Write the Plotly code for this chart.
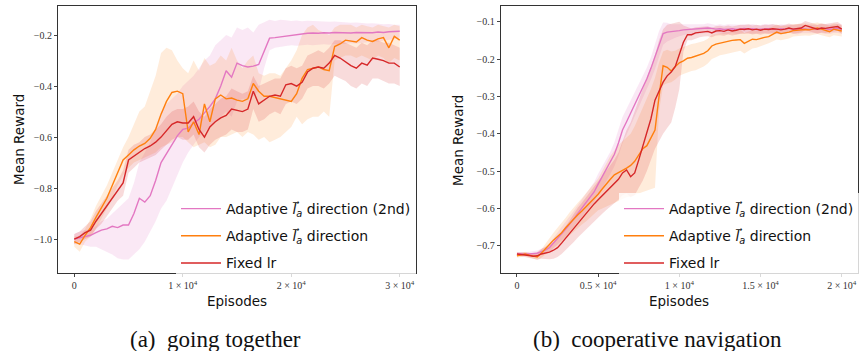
import numpy as np
import plotly.graph_objects as go

# ---------------- data: (a) going together ----------------
ep_a = np.arange(0, 30001, 500)

pink_a = [
    -1.00, -0.995, -0.99, -0.985, -0.975, -0.965, -0.96, -0.95, -0.955, -0.945,
    -0.945, -0.90, -0.84, -0.855, -0.83, -0.77, -0.70, -0.665, -0.63, -0.595,
    -0.57, -0.565, -0.545, -0.53, -0.505, -0.48, -0.45, -0.40, -0.34, -0.365,
    -0.31, -0.32, -0.325, -0.322, -0.315, -0.26, -0.212, -0.21, -0.207, -0.205,
    -0.20, -0.198, -0.195, -0.193, -0.192, -0.193, -0.191, -0.192, -0.19, -0.191,
    -0.19, -0.192, -0.19, -0.191, -0.19, -0.191, -0.188, -0.19, -0.187, -0.185,
    -0.185]
pink_a_hi = [
    -0.98, -0.97, -0.965, -0.96, -0.95, -0.93, -0.92, -0.90, -0.88, -0.86,
    -0.84, -0.78, -0.70, -0.66, -0.62, -0.56, -0.50, -0.47, -0.45, -0.43,
    -0.40, -0.38, -0.36, -0.33, -0.30, -0.28, -0.24, -0.22, -0.20, -0.21,
    -0.17, -0.18, -0.17, -0.19, -0.16, -0.15, -0.14, -0.145, -0.14, -0.142,
    -0.145, -0.143, -0.146, -0.144, -0.145, -0.147, -0.146, -0.148, -0.147, -0.149,
    -0.15, -0.152, -0.151, -0.153, -0.155, -0.154, -0.156, -0.158, -0.157, -0.16,
    -0.16]
pink_a_lo = [
    -1.02, -1.02, -1.025, -1.03, -1.03, -1.04, -1.05, -1.06, -1.075, -1.08,
    -1.08, -1.06, -1.04, -1.01, -0.97, -0.93, -0.88, -0.85, -0.80, -0.75,
    -0.70, -0.66, -0.63, -0.60, -0.58, -0.56, -0.54, -0.52, -0.50, -0.52,
    -0.46, -0.45, -0.45, -0.44, -0.42, -0.33, -0.26, -0.25, -0.245, -0.243,
    -0.24, -0.242, -0.24, -0.238, -0.24, -0.237, -0.236, -0.238, -0.235, -0.236,
    -0.234, -0.232, -0.233, -0.23, -0.228, -0.226, -0.225, -0.222, -0.22, -0.215,
    -0.21]

orange_a = [
    -1.01, -1.02, -0.985, -0.955, -0.915, -0.875, -0.84, -0.79, -0.74, -0.69,
    -0.67, -0.65, -0.635, -0.625, -0.605, -0.57, -0.51, -0.46, -0.425, -0.42,
    -0.43, -0.58, -0.54, -0.59, -0.47, -0.54, -0.45, -0.435, -0.45, -0.447,
    -0.455, -0.46, -0.45, -0.39, -0.42, -0.44, -0.44, -0.445, -0.45, -0.455,
    -0.46, -0.43, -0.37, -0.335, -0.33, -0.325, -0.335, -0.34, -0.245, -0.235,
    -0.22, -0.225, -0.227, -0.21, -0.22, -0.225, -0.215, -0.21, -0.25, -0.205,
    -0.22]
orange_a_hi = [
    -0.99, -0.99, -0.96, -0.92, -0.87, -0.83, -0.79, -0.74, -0.69, -0.64,
    -0.60, -0.55, -0.50, -0.48, -0.42, -0.36, -0.27, -0.25, -0.26, -0.30,
    -0.33, -0.35, -0.30, -0.34, -0.29, -0.32, -0.31, -0.28, -0.30, -0.25,
    -0.30, -0.33, -0.30, -0.28, -0.35, -0.36, -0.35, -0.35, -0.36, -0.33,
    -0.30, -0.26, -0.20, -0.17, -0.16, -0.18, -0.19, -0.20, -0.17, -0.16,
    -0.16, -0.16, -0.17, -0.16, -0.165, -0.17, -0.16, -0.165, -0.17, -0.16,
    -0.165]
orange_a_lo = [
    -1.03, -1.05, -1.01, -0.99, -0.96, -0.92, -0.88, -0.84, -0.79, -0.75,
    -0.72, -0.70, -0.69, -0.68, -0.67, -0.66, -0.64, -0.63, -0.62, -0.60,
    -0.60, -0.62, -0.64, -0.63, -0.62, -0.64, -0.63, -0.60, -0.60, -0.59,
    -0.58, -0.60, -0.58, -0.59, -0.61, -0.60, -0.62, -0.61, -0.60, -0.58,
    -0.56, -0.52, -0.55, -0.53, -0.52, -0.52, -0.50, -0.52, -0.30, -0.29,
    -0.28, -0.28, -0.29, -0.28, -0.29, -0.30, -0.28, -0.29, -0.31, -0.29,
    -0.30]

red_a = [
    -1.00, -0.99, -0.975, -0.965, -0.93, -0.90, -0.87, -0.84, -0.81, -0.78,
    -0.69, -0.675, -0.66, -0.645, -0.635, -0.62, -0.60, -0.575, -0.55, -0.54,
    -0.545, -0.545, -0.52, -0.57, -0.60, -0.56, -0.54, -0.525, -0.515, -0.49,
    -0.495, -0.50, -0.49, -0.42, -0.47, -0.455, -0.44, -0.435, -0.44, -0.395,
    -0.39, -0.40, -0.385, -0.345, -0.33, -0.325, -0.33, -0.31, -0.28, -0.29,
    -0.305, -0.32, -0.33, -0.31, -0.318, -0.29, -0.295, -0.30, -0.31, -0.31,
    -0.325]
red_a_hi = [
    -0.98, -0.97, -0.95, -0.93, -0.89, -0.86, -0.83, -0.80, -0.77, -0.73,
    -0.65, -0.63, -0.62, -0.60, -0.59, -0.57, -0.55, -0.52, -0.50, -0.49,
    -0.49, -0.48, -0.46, -0.50, -0.52, -0.49, -0.47, -0.45, -0.44, -0.41,
    -0.42, -0.43, -0.42, -0.36, -0.40, -0.39, -0.38, -0.37, -0.37, -0.33,
    -0.32, -0.33, -0.32, -0.28, -0.27, -0.26, -0.27, -0.25, -0.22, -0.22,
    -0.23, -0.24, -0.25, -0.23, -0.24, -0.22, -0.22, -0.23, -0.23, -0.24,
    -0.25]
red_a_lo = [
    -1.02, -1.01, -1.00, -0.99, -0.96, -0.94, -0.91, -0.88, -0.85, -0.83,
    -0.74, -0.72, -0.70, -0.69, -0.68, -0.67, -0.65, -0.63, -0.61, -0.60,
    -0.61, -0.61, -0.59, -0.64, -0.66, -0.63, -0.61, -0.60, -0.59, -0.57,
    -0.58, -0.58, -0.57, -0.49, -0.54, -0.53, -0.51, -0.50, -0.51, -0.47,
    -0.46, -0.47, -0.45, -0.41, -0.40, -0.40, -0.41, -0.39, -0.36, -0.37,
    -0.38, -0.40, -0.41, -0.39, -0.40, -0.37, -0.37, -0.38, -0.39, -0.39,
    -0.40]

# ---------------- data: (b) cooperative navigation ----------------
ep_b = np.arange(0, 20001, 250)

pink_b = [
    -0.722, -0.723, -0.722, -0.722, -0.721, -0.720, -0.716, -0.712, -0.705, -0.693,
    -0.681, -0.668, -0.655, -0.642, -0.628, -0.613, -0.600, -0.585, -0.572, -0.556,
    -0.535, -0.515, -0.497, -0.478, -0.455, -0.425, -0.39, -0.368, -0.345, -0.32,
    -0.296, -0.275, -0.253, -0.225, -0.195, -0.16, -0.132, -0.128, -0.127, -0.125,
    -0.124, -0.122, -0.121, -0.122, -0.121, -0.12, -0.119, -0.117, -0.118, -0.12,
    -0.119, -0.121, -0.12, -0.119, -0.121, -0.12, -0.118, -0.12, -0.119, -0.121,
    -0.12, -0.118, -0.119, -0.12, -0.121, -0.119, -0.12, -0.118, -0.12, -0.121,
    -0.119, -0.12, -0.121, -0.119, -0.12, -0.118, -0.12, -0.121, -0.119, -0.118,
    -0.12]
pink_b_spread = [
    0.005, 0.005, 0.005, 0.006, 0.006, 0.007, 0.008, 0.010, 0.012, 0.014,
    0.016, 0.018, 0.020, 0.020, 0.022, 0.022, 0.024, 0.024, 0.025, 0.026,
    0.028, 0.028, 0.030, 0.030, 0.032, 0.035, 0.035, 0.035, 0.034, 0.033,
    0.032, 0.030, 0.030, 0.030, 0.032, 0.035, 0.030, 0.025, 0.020, 0.018,
    0.015, 0.014, 0.012, 0.013, 0.012, 0.011, 0.012, 0.013, 0.012, 0.011,
    0.012, 0.012, 0.013, 0.011, 0.012, 0.012, 0.011, 0.012, 0.013, 0.012,
    0.011, 0.012, 0.012, 0.013, 0.011, 0.012, 0.012, 0.011, 0.012, 0.013,
    0.012, 0.011, 0.012, 0.012, 0.011, 0.012, 0.013, 0.012, 0.011, 0.012,
    0.012]

orange_b = [
    -0.727, -0.724, -0.722, -0.725, -0.728, -0.73, -0.72, -0.708, -0.695, -0.685,
    -0.675, -0.665, -0.652, -0.64, -0.628, -0.617, -0.607, -0.596, -0.584, -0.572,
    -0.562, -0.548, -0.534, -0.522, -0.51, -0.503, -0.498, -0.492, -0.485, -0.474,
    -0.455, -0.44, -0.432, -0.41, -0.39, -0.30, -0.218, -0.222, -0.232, -0.22,
    -0.21, -0.205, -0.198, -0.196, -0.192, -0.189, -0.185, -0.178, -0.165, -0.16,
    -0.157, -0.155, -0.152, -0.15, -0.149, -0.148, -0.158, -0.152, -0.147, -0.148,
    -0.144, -0.142, -0.14, -0.134, -0.128, -0.132, -0.131, -0.128, -0.124, -0.123,
    -0.122, -0.121, -0.122, -0.119, -0.117, -0.12, -0.124, -0.127, -0.12, -0.122,
    -0.125]
orange_b_hi = [
    -0.722, -0.718, -0.716, -0.719, -0.721, -0.722, -0.71, -0.694, -0.678, -0.665,
    -0.652, -0.64, -0.625, -0.61, -0.596, -0.585, -0.573, -0.56, -0.546, -0.532,
    -0.52, -0.50, -0.478, -0.46, -0.445, -0.43, -0.42, -0.41, -0.40, -0.38,
    -0.355, -0.33, -0.31, -0.28, -0.25, -0.21, -0.18, -0.175, -0.18, -0.178,
    -0.172, -0.168, -0.163, -0.16, -0.158, -0.155, -0.152, -0.146, -0.135, -0.132,
    -0.13, -0.128, -0.126, -0.124, -0.122, -0.121, -0.13, -0.126, -0.122, -0.124,
    -0.12, -0.118, -0.117, -0.113, -0.108, -0.112, -0.112, -0.11, -0.107, -0.106,
    -0.106, -0.105, -0.106, -0.104, -0.102, -0.105, -0.108, -0.11, -0.105, -0.106,
    -0.11]
orange_b_lo = [
    -0.732, -0.73, -0.728, -0.731, -0.735, -0.738, -0.732, -0.724, -0.715, -0.708,
    -0.70, -0.692, -0.682, -0.672, -0.662, -0.652, -0.643, -0.635, -0.625, -0.615,
    -0.605, -0.60, -0.595, -0.59, -0.585, -0.58, -0.575, -0.57, -0.568, -0.565,
    -0.56, -0.556, -0.552, -0.548, -0.545, -0.34, -0.27, -0.265, -0.262, -0.255,
    -0.245, -0.24, -0.235, -0.232, -0.23, -0.226, -0.22, -0.212, -0.20, -0.195,
    -0.19, -0.188, -0.185, -0.182, -0.18, -0.178, -0.185, -0.178, -0.172, -0.17,
    -0.165, -0.162, -0.158, -0.152, -0.148, -0.15, -0.148, -0.145, -0.14, -0.14,
    -0.138, -0.137, -0.138, -0.135, -0.133, -0.136, -0.14, -0.142, -0.136, -0.138,
    -0.14]

red_b = [
    -0.722, -0.723, -0.724, -0.726, -0.728, -0.727, -0.722, -0.72, -0.717, -0.712,
    -0.705, -0.693, -0.68, -0.665, -0.652, -0.638, -0.625, -0.613, -0.60, -0.588,
    -0.577, -0.566, -0.555, -0.544, -0.532, -0.522, -0.505, -0.497, -0.515, -0.505,
    -0.47, -0.435, -0.40, -0.36, -0.31, -0.285, -0.262, -0.245, -0.235, -0.22,
    -0.19, -0.155, -0.135, -0.135, -0.13, -0.128, -0.127, -0.126, -0.13, -0.125,
    -0.124, -0.126, -0.122, -0.125, -0.123, -0.12, -0.121, -0.119, -0.122, -0.12,
    -0.123, -0.12, -0.121, -0.119, -0.12, -0.122, -0.12, -0.117, -0.12, -0.118,
    -0.117, -0.11, -0.113, -0.117, -0.12, -0.117, -0.118, -0.116, -0.115, -0.113,
    -0.12]
red_b_hi = [
    -0.717, -0.718, -0.718, -0.719, -0.72, -0.717, -0.709, -0.704, -0.698, -0.69,
    -0.68, -0.665, -0.65, -0.632, -0.615, -0.598, -0.585, -0.57, -0.555, -0.54,
    -0.527, -0.514, -0.50, -0.487, -0.47, -0.45, -0.42, -0.39, -0.37, -0.34,
    -0.31, -0.28, -0.25, -0.22, -0.19, -0.15, -0.12, -0.108, -0.105, -0.103,
    -0.10, -0.11, -0.115, -0.118, -0.115, -0.114, -0.113, -0.112, -0.116, -0.112,
    -0.111, -0.113, -0.11, -0.113, -0.111, -0.108, -0.109, -0.107, -0.11, -0.108,
    -0.111, -0.108, -0.109, -0.107, -0.108, -0.11, -0.108, -0.105, -0.108, -0.106,
    -0.105, -0.098, -0.101, -0.105, -0.108, -0.105, -0.106, -0.104, -0.103, -0.101,
    -0.108]
red_b_lo = [
    -0.727, -0.728, -0.73, -0.733, -0.736, -0.737, -0.735, -0.736, -0.736, -0.735,
    -0.73, -0.722, -0.712, -0.70, -0.69, -0.678, -0.667, -0.656, -0.645, -0.634,
    -0.624, -0.614, -0.604, -0.595, -0.585, -0.577, -0.565, -0.56, -0.57, -0.565,
    -0.545, -0.525, -0.50, -0.47, -0.44, -0.42, -0.40, -0.385, -0.37, -0.33,
    -0.28, -0.18, -0.15, -0.15, -0.145, -0.142, -0.14, -0.139, -0.142, -0.137,
    -0.136, -0.138, -0.134, -0.137, -0.135, -0.132, -0.133, -0.131, -0.134, -0.132,
    -0.135, -0.132, -0.133, -0.131, -0.132, -0.134, -0.132, -0.129, -0.132, -0.13,
    -0.129, -0.122, -0.125, -0.129, -0.132, -0.129, -0.13, -0.128, -0.127, -0.125,
    -0.132]

# ---------------- labels and styles ----------------
names = [
    "Adaptive <i>l\u20d7</i><sub><i>a</i></sub> direction (2nd)",
    "Adaptive <i>l\u20d7</i><sub><i>a</i></sub> direction",
    "Fixed lr",
]
line_colors = ["#e377c2", "#ff7f0e", "#d62728"]
band_colors = ["rgba(227,119,194,0.17)", "rgba(255,127,14,0.15)", "rgba(214,39,40,0.17)"]

yticks_a = [-1.0, -0.8, -0.6, -0.4, -0.2]
yticks_b = [-0.7, -0.6, -0.5, -0.4, -0.3, -0.2, -0.1]
xticks_a = [0, 10000, 20000, 30000]
xtext_a = ["0", "1 × 10<sup>4</sup>", "2 × 10<sup>4</sup>", "3 × 10<sup>4</sup>"]
xticks_b = [0, 5000, 10000, 15000, 20000]
xtext_b = ["0", "0.5 × 10<sup>4</sup>", "1 × 10<sup>4</sup>", "1.5 × 10<sup>4</sup>", "2 × 10<sup>4</sup>"]

panels = [
    dict(ep=ep_a, xa="x", ya="y", legend="legend",
         series=[(pink_a, pink_a_lo, pink_a_hi),
                 (orange_a, orange_a_lo, orange_a_hi),
                 (red_a, red_a_lo, red_a_hi)]),
    dict(ep=ep_b, xa="x2", ya="y2", legend="legend2",
         series=[(pink_b, list(np.array(pink_b) - np.array(pink_b_spread)),
                  list(np.array(pink_b) + np.array(pink_b_spread))),
                 (orange_b, orange_b_lo, orange_b_hi),
                 (red_b, red_b_lo, red_b_hi)]),
]

fig = go.Figure()

for p in panels:
    # shaded spread bands first, so the mean curves sit on top
    for (mean, lo, hi), bc in zip(p["series"], band_colors):
        fig.add_trace(go.Scatter(x=p["ep"], y=lo, mode="lines", line=dict(width=0),
                                 xaxis=p["xa"], yaxis=p["ya"], showlegend=False,
                                 hoverinfo="skip"))
        fig.add_trace(go.Scatter(x=p["ep"], y=hi, mode="lines", line=dict(width=0),
                                 fill="tonexty", fillcolor=bc,
                                 xaxis=p["xa"], yaxis=p["ya"], showlegend=False,
                                 hoverinfo="skip"))
    for (mean, lo, hi), lc, nm, i in zip(p["series"], line_colors, names, range(3)):
        fig.add_trace(go.Scatter(x=p["ep"], y=mean, mode="lines", name=nm,
                                 line=dict(color=lc, width=1.4),
                                 xaxis=p["xa"], yaxis=p["ya"],
                                 legend=p["legend"], legendgroup=f"{p['legend']}{i}"))

tick_font = dict(family="Liberation Serif, DejaVu Serif, serif", size=10, color="#333")
axis_common = dict(showline=True, linecolor="#333", linewidth=1, mirror=True,
                   ticks="outside", ticklen=3, tickcolor="#444", tickwidth=1,
                   showgrid=False, zeroline=False, tickfont=tick_font)

y_dom = [1 - 273 / 351, 1 - 6 / 351]
fig.update_layout(
    width=865, height=351,
    margin=dict(l=0, r=0, t=0, b=0),
    paper_bgcolor="white", plot_bgcolor="white",
    font=dict(family="DejaVu Sans, sans-serif", color="#111"),
    xaxis=dict(domain=[58 / 865, 416 / 865], range=[-1500, 31500],
               tickvals=xticks_a, ticktext=xtext_a, anchor="y", **axis_common),
    yaxis=dict(domain=y_dom, range=[-1.133, -0.086], anchor="x",
               tickvals=yticks_a, ticktext=[f"\u2212{abs(v):.1f}" for v in yticks_a],
               **axis_common),
    xaxis2=dict(domain=[500.7 / 865, 858 / 865], range=[-1000, 21000],
                tickvals=xticks_b, ticktext=xtext_b, anchor="y2", **axis_common),
    yaxis2=dict(domain=y_dom, range=[-0.773, -0.058], anchor="x2",
                tickvals=yticks_b, ticktext=[f"\u2212{abs(v):.1f}" for v in yticks_b],
                **axis_common),
    legend=dict(x=176 / 865, y=1 - 193 / 351, xanchor="left", yanchor="top",
                bgcolor="rgba(255,255,255,0.8)", borderwidth=0,
                font=dict(size=14, color="#111"), tracegroupgap=6, itemwidth=40),
    legend2=dict(x=619 / 865, y=1 - 193 / 351, xanchor="left", yanchor="top",
                 bgcolor="rgba(255,255,255,0.8)", borderwidth=0,
                 font=dict(size=14, color="#111"), tracegroupgap=6, itemwidth=40),
)

# axis titles and panel captions
title_font = dict(family="DejaVu Sans, sans-serif", size=13.5, color="#111")
cap_font = dict(family="Liberation Serif, Times New Roman, serif", size=23, color="#111")
texts = [
    (19, 140, "Mean Reward", title_font, -90),
    (458, 140, "Mean Reward", title_font, -90),
    (237, 301, "Episodes", title_font, 0),
    (679, 301, "Episodes", title_font, 0),
    (215, 339, "(a)  going together", cap_font, 0),
    (657, 339, "(b)  cooperative navigation", cap_font, 0),
]
for x, y, t, f, ang in texts:
    fig.add_annotation(x=x / 865, y=1 - y / 351, xref="paper", yref="paper",
                       text=t, showarrow=False, font=f, textangle=ang,
                       xanchor="center", yanchor="middle")

fig.write_html("out.html")
